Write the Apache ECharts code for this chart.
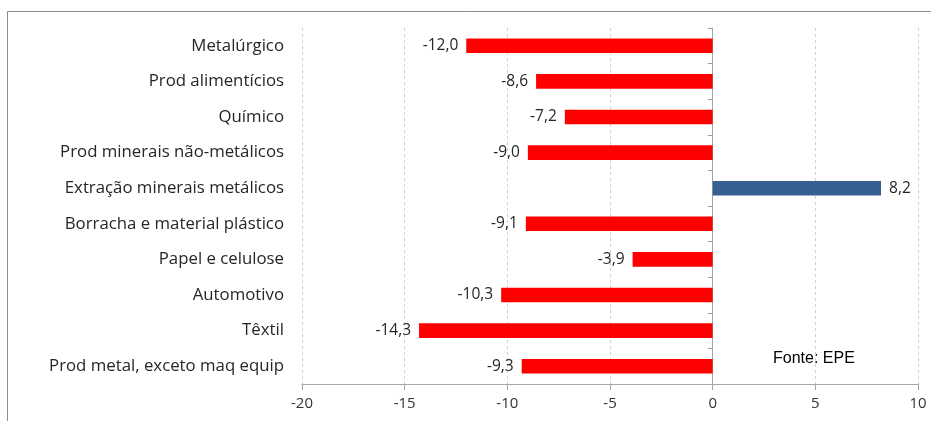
<!DOCTYPE html>
<html>
<head>
<meta charset="utf-8">
<script src="https://cdn.jsdelivr.net/npm/echarts@6/dist/echarts.min.js"></script>
<style>
html,body{margin:0;padding:0;background:#fff;}
#chart{width:931px;height:421px;}
</style>
</head>
<body>
<div id="chart"></div>
<script>
const categories = [
  "Metalúrgico",
  "Prod alimentícios",
  "Químico",
  "Prod minerais não-metálicos",
  "Extração minerais metálicos",
  "Borracha e material plástico",
  "Papel e celulose",
  "Automotivo",
  "Têxtil",
  "Prod metal, exceto maq equip"
];
const values = [-12.0, -8.6, -7.2, -9.0, 8.2, -9.1, -3.9, -10.3, -14.3, -9.3];
const xTicks = { min: -20, max: 10, interval: 5 };
const sourceText = "Fonte: EPE";

const FONT = "'Open Sans', Lato, sans-serif";
const chart = echarts.init(document.getElementById('chart'), null, { renderer: 'canvas' });

const seriesData = values.map(v => ({
  value: v,
  itemStyle: { color: v < 0 ? '#ff0000' : '#376092' },
  label: { position: v < 0 ? 'left' : 'right' }
}));

chart.setOption({
  animation: false,
  backgroundColor: '#ffffff',
  grid: { left: 302, right: 13, top: 28, bottom: 37, containLabel: false },
  xAxis: {
    type: 'value',
    min: xTicks.min, max: xTicks.max, interval: xTicks.interval,
    axisLine: { show: true, onZero: false, lineStyle: { color: '#a6a6a6', width: 1 } },
    axisTick: { show: true, length: 6, lineStyle: { color: '#a6a6a6' } },
    axisLabel: { color: '#333333', fontSize: 15, fontFamily: FONT, margin: 12 },
    splitLine: { show: true, lineStyle: { color: '#d0d0d0', type: [3, 3], width: 1 } }
  },
  yAxis: [
    {
      type: 'category',
      data: categories,
      inverse: true,
      position: 'left',
      axisLine: { show: false, onZero: false },
      axisTick: { show: false },
      axisLabel: { color: '#262626', fontSize: 16.8, fontFamily: FONT, margin: 18 },
      splitLine: { show: false }
    },
    {
      type: 'category',
      data: categories,
      inverse: true,
      position: 'left',
      axisLine: { show: true, onZero: true, lineStyle: { color: '#a6a6a6', width: 1 } },
      axisTick: { show: true, length: 5, lineStyle: { color: '#a6a6a6' } },
      axisLabel: { show: false },
      splitLine: { show: false }
    }
  ],
  series: [{
    type: 'bar',
    yAxisIndex: 0,
    data: seriesData,
    barWidth: '41%',
    label: {
      show: true,
      distance: 8,
      color: '#262626',
      fontSize: 15.5,
      fontFamily: FONT,
      formatter: p => p.value.toFixed(1).replace('.', ',')
    }
  }],
  graphic: [
    {
      type: 'rect',
      shape: { x: 7.5, y: 11.5, width: 940, height: 430 },
      style: { fill: 'none', stroke: '#8c8c8c', lineWidth: 1 },
      silent: true
    },
    {
      type: 'text',
      left: 773, top: 351,
      style: { text: sourceText, fill: '#000000', fontSize: 16, fontFamily: "'Liberation Sans', Arial, sans-serif" }
    }
  ]
});
</script>
</body>
</html>
